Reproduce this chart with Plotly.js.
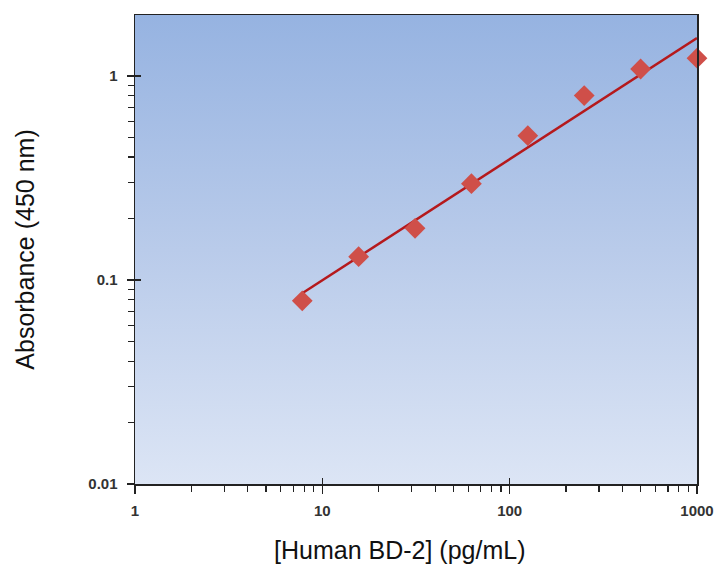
<!DOCTYPE html>
<html>
<head>
<meta charset="utf-8">
<script src="https://cdn.plot.ly/plotly-3.0.1.min.js"></script>
<style>html,body{margin:0;padding:0;background:#fff;}#chart{width:717px;height:565px;}</style>
</head>
<body>
<div id="chart"></div>
<script>
// Data
const concentration = [7.8125, 15.625, 31.25, 62.5, 125, 250, 500, 1000];
const absorbance = [0.079, 0.130, 0.179, 0.296, 0.509, 0.80, 1.08, 1.22];
const fitX = [7.8125, 1000];
const fitY = [0.086, 1.53];
const xTickVals = [1, 10, 100, 1000];
const xTickText = ['1', '10', '100', '1000'];
const yTickVals = [0.01, 0.1, 1];
const yTickText = ['0.01', '0.1', '1'];

const svg = '<svg xmlns="http://www.w3.org/2000/svg" width="100" height="100" preserveAspectRatio="none">' +
  '<defs><linearGradient id="g" x1="0" y1="0" x2="0" y2="1">' +
  '<stop offset="0" stop-color="#96b3e1"/><stop offset="0.5" stop-color="#b9cbea"/><stop offset="1" stop-color="#dce5f5"/>' +
  '</linearGradient></defs><rect width="100" height="100" fill="url(#g)"/></svg>';
const bgSrc = 'data:image/svg+xml;charset=utf-8,' + encodeURIComponent(svg);

const tickFont = {family: 'Arial, "Liberation Sans", sans-serif', size: 15, color: '#333', weight: 'bold'};
const titleFont = {family: 'Arial, "Liberation Sans", sans-serif', size: 25, color: '#111'};

const traces = [
  {x: fitX, y: fitY, mode: 'lines', type: 'scatter', line: {color: '#b5191c', width: 2.5}, hoverinfo: 'skip', showlegend: false},
  {x: concentration, y: absorbance, mode: 'markers', type: 'scatter',
   marker: {symbol: 'diamond', size: 16, color: '#cf4f49', line: {width: 0}}, showlegend: false, cliponaxis: false},
  {x: [], y: [], xaxis: 'x2', yaxis: 'y2', mode: 'markers', showlegend: false, hoverinfo: 'skip'}
];

const layout = {
  width: 717, height: 565,
  margin: {l: 135, r: 20, t: 15, b: 81},
  paper_bgcolor: '#ffffff',
  plot_bgcolor: 'rgba(0,0,0,0)',
  showlegend: false,
  images: [{source: bgSrc, xref: 'paper', yref: 'paper', x: 0, y: 1, sizex: 1, sizey: 1,
            sizing: 'stretch', xanchor: 'left', yanchor: 'top', layer: 'below'}],
  annotations: [{text: '[Human BD-2] (pg/mL)', xref: 'paper', yref: 'paper', x: 0.4715, y: -0.1407,
                 xanchor: 'center', yanchor: 'middle', showarrow: false, font: titleFont}],
  xaxis: {
    type: 'log', range: [0, 3], tickvals: xTickVals, ticktext: xTickText,
    ticks: 'outside', ticklen: 8, tickwidth: 1.5, tickcolor: '#222',
    showline: true, linecolor: '#222', linewidth: 1.5, mirror: true,
    showgrid: false, zeroline: false, tickfont: tickFont, ticklabelstandoff: 4,
    minor: {ticks: 'outside', ticklen: 6, tickwidth: 1.2, tickcolor: '#222', dtick: 'D1', showgrid: false}
  },
  yaxis: {
    type: 'log', range: [-2, 0.298], tickvals: yTickVals, ticktext: yTickText,
    ticks: 'outside', ticklen: 7, tickwidth: 1.5, tickcolor: '#222',
    showline: true, linecolor: '#222', linewidth: 1.5, mirror: true,
    showgrid: false, zeroline: false, tickfont: tickFont, ticklabelstandoff: 6,
    minor: {ticks: 'outside', ticklen: 6, tickwidth: 1.2, tickcolor: '#222', dtick: 'D1', showgrid: false},
    title: {text: 'Absorbance (450 nm)', font: titleFont, standoff: 46}
  },
  xaxis2: {type: 'log', range: [0, 3], overlaying: 'x', anchor: 'y', side: 'bottom', tickvals: xTickVals,
           ticks: 'inside', ticklen: 6, tickwidth: 1.5, tickcolor: '#222', showticklabels: false,
           showline: false, showgrid: false, zeroline: false},
  yaxis2: {type: 'log', range: [-2, 0.298], overlaying: 'y', anchor: 'x', side: 'left', tickvals: yTickVals,
           ticks: 'inside', ticklen: 6, tickwidth: 1.5, tickcolor: '#222', showticklabels: false,
           showline: false, showgrid: false, zeroline: false}
};

Plotly.newPlot('chart', traces, layout, {staticPlot: true, displayModeBar: false});
</script>
</body>
</html>
